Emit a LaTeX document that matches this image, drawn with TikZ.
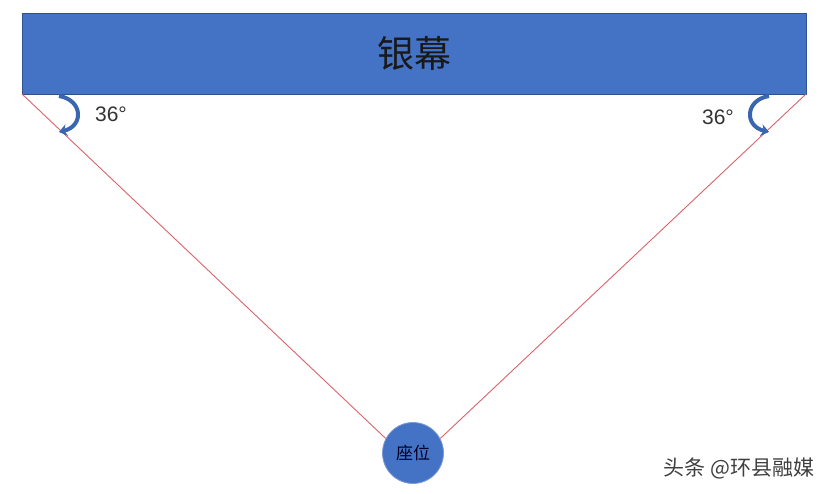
\documentclass[tikz,border=0pt]{standalone}
\usepackage{fontspec}
\setmainfont{Liberation Sans}
\newfontfamily\cjk{Noto Sans CJK SC}
\usetikzlibrary{arrows.meta}
\definecolor{scrblue}{HTML}{4472C4}
\definecolor{scredge}{HTML}{2F528F}
\definecolor{redline}{HTML}{D9646B}
\definecolor{arrblue}{HTML}{3A66B0}
\tikzset{
  sightline/.style={draw=redline, line width=0.9pt},
  anglearrow/.style={draw=arrblue, line width=4pt, -{Stealth[length=8pt,width=12pt]}},
  anglelabel/.style={font=\fontsize{21}{21}\selectfont, text=black!80},
}
\begin{document}
\begin{tikzpicture}[x=1pt,y=-1pt]
\useasboundingbox (0,0) rectangle (831,494);
\node[fill=scrblue, draw=scredge, line width=0.8pt, minimum width=784pt, minimum height=81pt, inner sep=0pt, anchor=north west,
  font=\cjk\fontsize{37}{37}\selectfont, text=black!90] (screen) at (22,13) {银幕};
\coordinate (sl) at (22,94);
\coordinate (sr) at (806,94);
\node[circle, fill=scrblue, draw=scrblue!70!white, line width=0.8pt, minimum size=61pt, inner sep=0pt,
  font=\cjk\fontsize{17}{17}\selectfont, text=black!85!blue] (seat) at (413,453) {座位};
\draw[sightline] (sl) -- (seat.152);
\draw[sightline] (sr) -- (seat.28);
\coordinate (la1) at (59,96);
\coordinate (la2) at (59,132);
\draw[anglearrow] (la1) .. controls (83,100) and (84,126) .. (la2);
\coordinate (ra1) at (769,96);
\coordinate (ra2) at (769,132);
\draw[anglearrow] (ra1) .. controls (745,100) and (744,126) .. (ra2);
\node[anglelabel] (al) at (111,114) {36°};
\node[anglelabel] (ar) at (718,117) {36°};
\node[font=\cjk\fontsize{21}{21}\selectfont, text=black!75, anchor=east] (wm) at (818,468) {头条 @环县融媒};
\end{tikzpicture}
\end{document}
